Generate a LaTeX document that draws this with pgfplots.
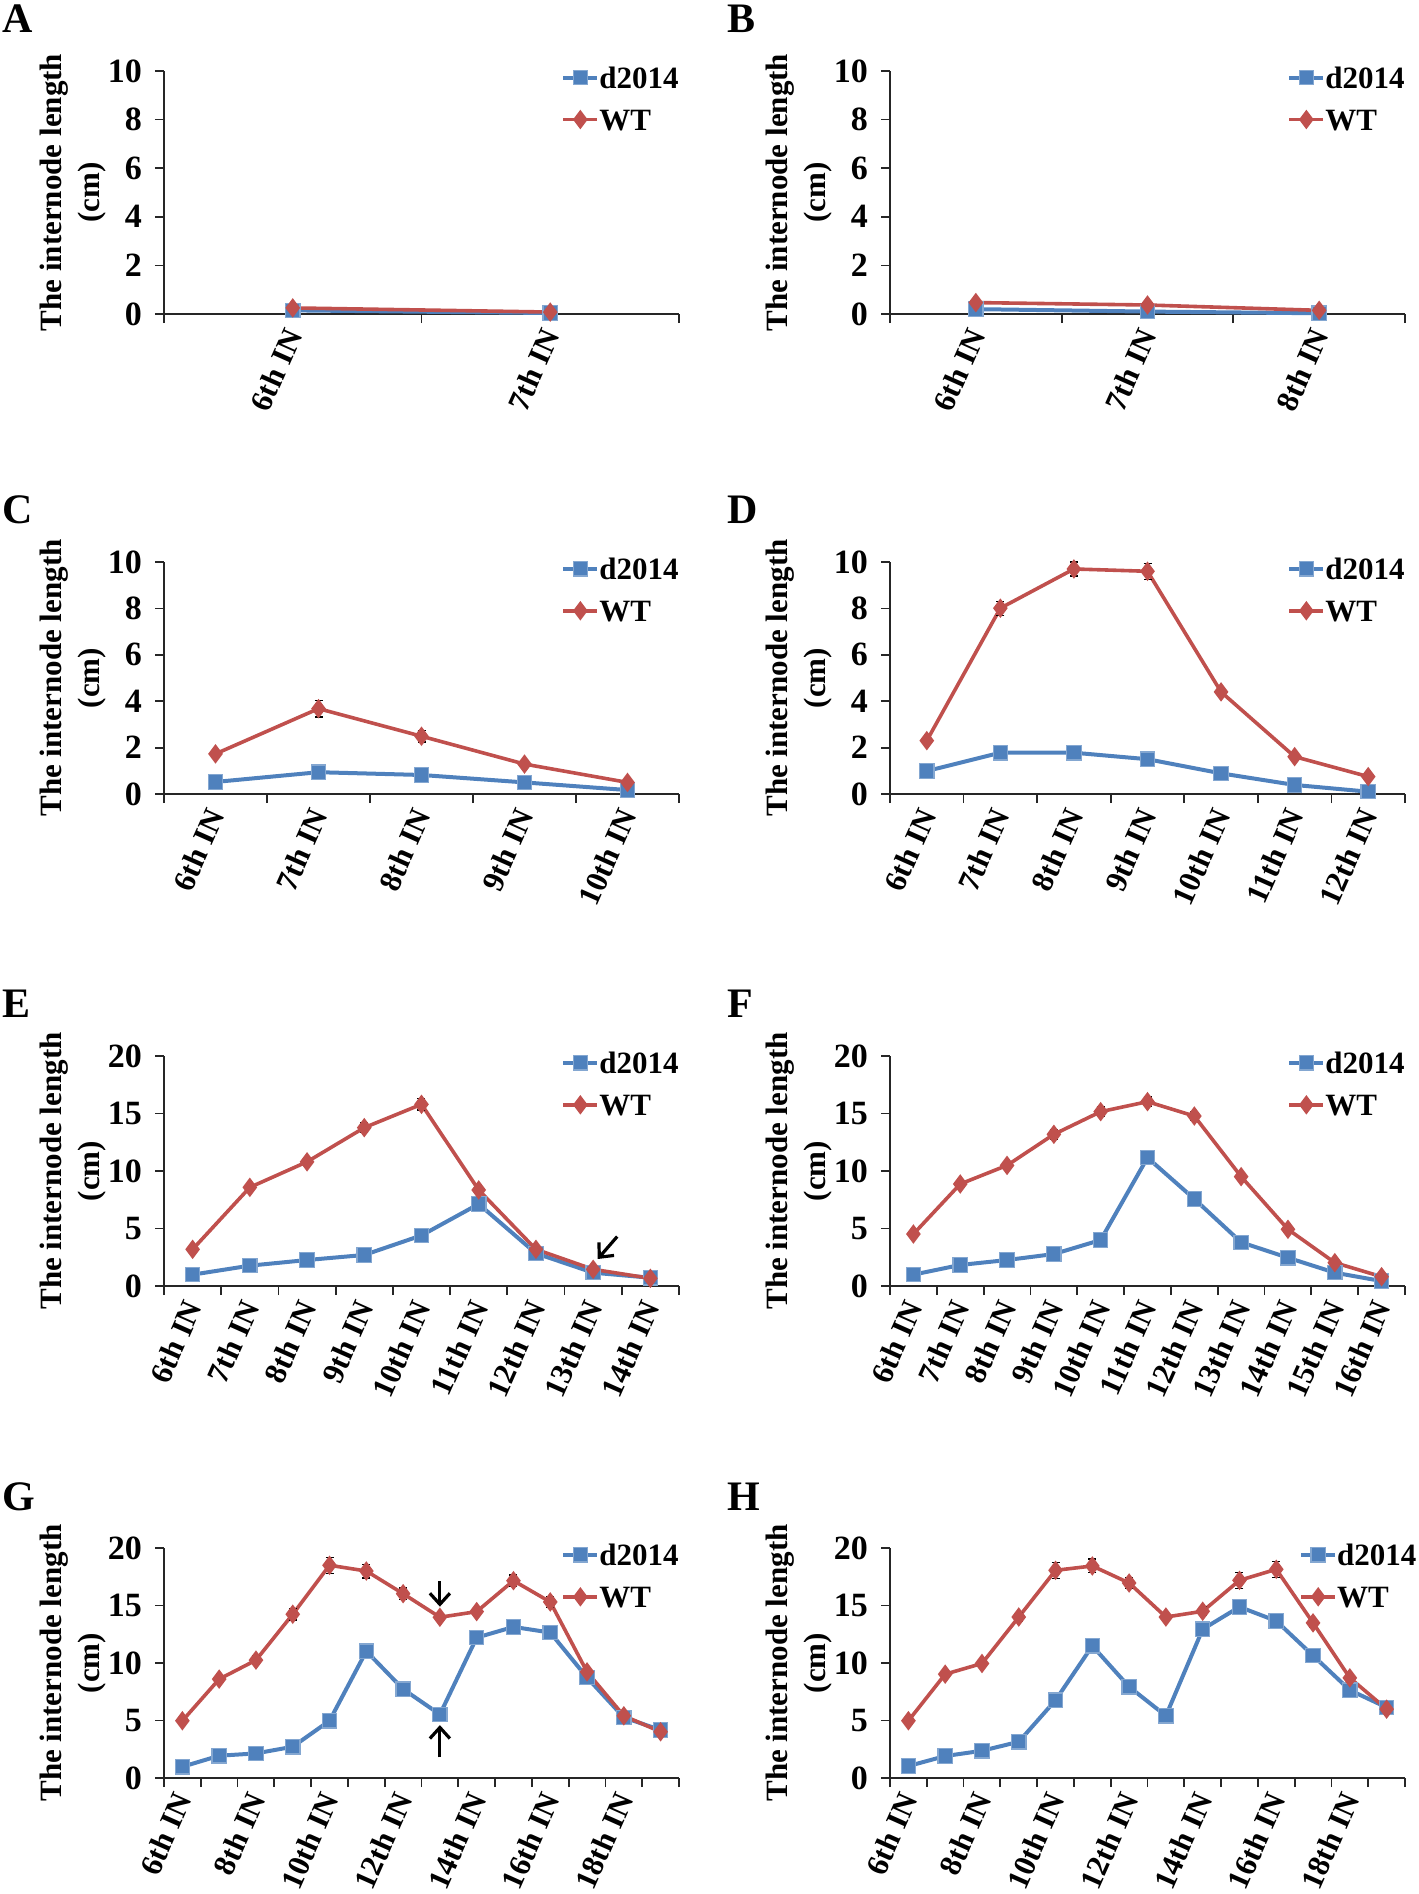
\documentclass[border=0pt]{standalone}
\usepackage{fontspec}
\setmainfont{Liberation Serif}
\usepackage{pgfplots}
\usepackage{pgfplotstable}
\pgfplotsset{compat=1.18}
\usetikzlibrary{arrows.meta}

\definecolor{mutblue}{HTML}{4F81BD}
\definecolor{wtred}{HTML}{C0504D}

% x = internode index (1 = 6th IN), mut = d2014, wt = WT, err = WT error
\pgfplotstableread{
x mut wt err
1 0.15 0.25 0.02
2 0.04 0.08 0.02
}\tabA
\pgfplotstableread{
x mut wt err
1 0.20 0.47 0.03
2 0.10 0.37 0.03
3 0.03 0.15 0.02
}\tabB
\pgfplotstableread{
x mut wt err
1 0.52 1.73 0.08
2 0.94 3.68 0.36
3 0.82 2.49 0.25
4 0.50 1.29 0.10
5 0.17 0.50 0.08
}\tabC
\pgfplotstableread{
x mut wt err
1 0.99 2.30 0.10
2 1.78 8.01 0.30
3 1.78 9.70 0.30
4 1.50 9.60 0.35
5 0.89 4.40 0.15
6 0.39 1.61 0.10
7 0.10 0.75 0.08
}\tabD
\pgfplotstableread{
x mut wt err
1 0.99 3.19 0.10
2 1.77 8.58 0.20
3 2.26 10.80 0.25
4 2.70 13.77 0.40
5 4.40 15.80 0.50
6 7.13 8.35 0.20
7 2.84 3.19 0.20
8 1.16 1.45 0.10
9 0.72 0.67 0.10
}\tabE
\pgfplotstableread{
x mut wt err
1 0.99 4.52 0.15
2 1.83 8.87 0.25
3 2.26 10.49 0.30
4 2.78 13.19 0.40
5 4.00 15.16 0.40
6 11.16 16.03 0.40
7 7.57 14.78 0.40
8 3.80 9.51 0.20
9 2.46 4.93 0.15
10 1.16 2.03 0.10
11 0.43 0.81 0.10
}\tabF
\pgfplotstableread{
x mut wt err
1 0.98 4.98 0.15
2 1.94 8.60 0.30
3 2.14 10.25 0.40
4 2.72 14.24 0.50
5 4.98 18.50 0.70
6 11.03 18.00 0.60
7 7.73 16.03 0.50
8 5.53 13.98 0.30
9 12.21 14.47 0.30
10 13.14 17.16 0.50
11 12.65 15.31 0.50
12 8.74 9.23 0.30
13 5.27 5.41 0.20
14 4.17 4.02 0.15
}\tabG
\pgfplotstableread{
x mut wt err
1 1.04 4.98 0.15
2 1.91 9.03 0.30
3 2.37 9.96 0.30
4 3.15 14.00 0.40
5 6.77 18.06 0.70
6 11.49 18.44 0.60
7 7.93 16.96 0.50
8 5.41 14.00 0.30
9 12.94 14.50 0.40
10 14.88 17.19 0.70
11 13.66 18.15 0.70
12 10.65 13.49 0.40
13 7.64 8.71 0.30
14 6.14 5.99 0.20
}\tabH

\tikzset{
  pointer/.style={-{Straight Barb[length=5.5pt,width=10pt,line width=1.6pt]}, line width=1.6pt, black},
  lbl/.style={anchor=base west, inner sep=0pt, font=\fontsize{21}{21}\selectfont\bfseries},
}

\pgfplotsset{
  panel/.style={
    scale only axis,
    axis lines*=left,
    axis line style={black!85, line width=0.9pt},
    tick style={black!85, line width=0.9pt},
    tick align=outside,
    major tick length=4.5pt,
    ymin=0,
    clip=false,
    x tick label as interval,
    /pgf/number format/assume math mode=true,
    yticklabel style={font=\fontsize{17}{17}\selectfont\bfseries, xshift=-3pt},
    xticklabel style={font=\fontsize{15.5}{15.5}\selectfont\bfseries,
                      rotate=66, anchor=east, yshift=-2pt},
    ylabel={The internode length\\(cm)},
    ylabel style={font=\fontsize{15.5}{19}\selectfont\bfseries, align=center,
                  at={(axis description cs:-0.177,0.5)}, anchor=center},
    legend style={at={(1,1.02)}, anchor=north east, draw=none, fill=none,
                  inner sep=0pt, row sep=10pt,
                  font=\fontsize{15.5}{15.5}\selectfont\bfseries,
                  nodes={inner sep=0pt, text height=11pt, text depth=0pt}},
    legend cell align=left,
    legend image code/.code={\draw[mark repeat=2,mark phase=2,#1]
      plot coordinates {(0pt,0pt) (8.5pt,0pt) (17pt,0pt)};},
  },
  mutline/.style={mutblue, line width=2pt, mark=square*, mark size=3.6pt,
                  mark options={fill=mutblue, draw=mutblue!70!white, line width=0.6pt}},
  wtline/.style={wtred, line width=1.8pt, mark=diamond*, mark size=3.4pt,
                 mark options={fill=wtred, draw=wtred},
                 error bars/.cd, y dir=both, y explicit,
                 error bar style={black, line width=0.6pt},
                 error mark options={rotate=90, black, mark size=2pt, line width=0.6pt}},
}

\newcommand{\panel}[1]{%
  \addplot[mutline] table[x=x, y=mut] {#1};
  \addlegendentry{d2014}
  \addplot[wtline] table[x=x, y=wt, y error=err] {#1};
  \addlegendentry{WT}
}

\begin{document}
\begin{tikzpicture}
\useasboundingbox (0pt,0pt) rectangle (709pt,-947pt);

\node[lbl] at (1pt,-16.5pt) {A};
\node[lbl] at (363.5pt,-16.5pt) {B};
\node[lbl] at (1pt,-261.5pt) {C};
\node[lbl] at (363.5pt,-261.5pt) {D};
\node[lbl] at (1pt,-508.5pt) {E};
\node[lbl] at (363.5pt,-508.5pt) {F};
\node[lbl] at (1pt,-755pt) {G};
\node[lbl] at (363.5pt,-755pt) {H};

% A
\begin{axis}[panel, at={(82pt,-157pt)}, anchor=south west,
  width=257.5pt, height=121.5pt, ymax=10, ytick={0,2,...,10},
  xmin=0.5, xmax=2.5, xtick={0.5,1.5,...,2.5},
  xticklabels={6th IN,7th IN}]
\panel{\tabA}
\end{axis}

% B
\begin{axis}[panel, at={(445pt,-157pt)}, anchor=south west,
  width=257.5pt, height=121.5pt, ymax=10, ytick={0,2,...,10},
  xmin=0.5, xmax=3.5, xtick={0.5,1.5,...,3.5},
  xticklabels={6th IN,7th IN,8th IN}]
\panel{\tabB}
\end{axis}

% C
\begin{axis}[panel, at={(82pt,-397pt)}, anchor=south west,
  width=257.5pt, height=116pt, ymax=10, ytick={0,2,...,10},
  xmin=0.5, xmax=5.5, xtick={0.5,1.5,...,5.5},
  xticklabels={6th IN,7th IN,8th IN,9th IN,10th IN}]
\panel{\tabC}
\end{axis}

% D
\begin{axis}[panel, at={(445pt,-397pt)}, anchor=south west,
  width=257.5pt, height=116pt, ymax=10, ytick={0,2,...,10},
  xmin=0.5, xmax=7.5, xtick={0.5,1.5,...,7.5},
  xticklabels={6th IN,7th IN,8th IN,9th IN,10th IN,11th IN,12th IN}]
\panel{\tabD}
\end{axis}

% E
\begin{axis}[panel, at={(82pt,-643pt)}, anchor=south west,
  width=257.5pt, height=115pt, ymax=20, ytick={0,5,...,20},
  xmin=0.5, xmax=9.5, xtick={0.5,1.5,...,9.5},
  xticklabels={6th IN,7th IN,8th IN,9th IN,10th IN,11th IN,12th IN,13th IN,14th IN}]
\panel{\tabE}
\draw[pointer] (axis cs:8.42,4.3) -- (axis cs:8.08,2.35);
\end{axis}

% F
\begin{axis}[panel, at={(445pt,-643pt)}, anchor=south west,
  width=257.5pt, height=115pt, ymax=20, ytick={0,5,...,20},
  xmin=0.5, xmax=11.5, xtick={0.5,1.5,...,11.5},
  xticklabels={6th IN,7th IN,8th IN,9th IN,10th IN,11th IN,12th IN,13th IN,14th IN,15th IN,16th IN}]
\panel{\tabF}
\end{axis}

% G
\begin{axis}[panel, at={(82pt,-889pt)}, anchor=south west,
  width=257.5pt, height=115pt, ymax=20, ytick={0,5,...,20},
  xmin=0.5, xmax=14.5, xtick={0.5,1.5,...,14.5},
  xticklabels={6th IN,,8th IN,,10th IN,,12th IN,,14th IN,,16th IN,,18th IN,}]
\panel{\tabG}
\draw[pointer] (axis cs:8,17.1) -- (axis cs:8,14.9);
\draw[pointer] (axis cs:8,1.8) -- (axis cs:8,4.6);
\end{axis}

% H
\begin{axis}[panel, at={(445pt,-889pt)}, anchor=south west,
  width=257.5pt, height=115pt, ymax=20, ytick={0,5,...,20},
  xmin=0.5, xmax=14.5, xtick={0.5,1.5,...,14.5},
  legend style={at={(1.023,1.02)}},
  xticklabels={6th IN,,8th IN,,10th IN,,12th IN,,14th IN,,16th IN,,18th IN,}]
\panel{\tabH}
\end{axis}
\end{tikzpicture}
\end{document}
